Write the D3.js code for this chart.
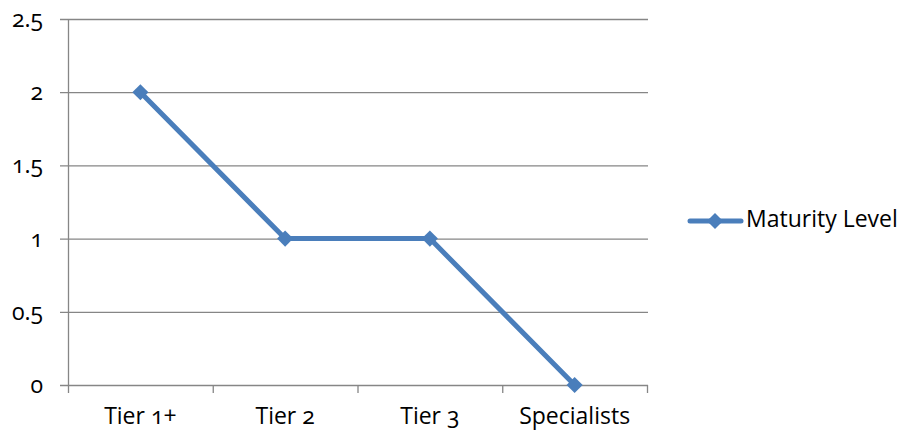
<!DOCTYPE html>
<html>
<head>
<meta charset="utf-8">
<script src="https://cdn.jsdelivr.net/npm/d3@7"></script>
<style>
body { margin: 0; background: #fff; }
svg text { font-family: "Open Sans", sans-serif; font-size: 23px; fill: #000; font-feature-settings: "onum"; }
</style>
</head>
<body>
<svg width="907" height="432"></svg>
<script>
const categories = ['Tier 1+', 'Tier 2', 'Tier 3', 'Specialists'];
const maturity = [2, 1, 1, 0];
const yTicks = [0, 0.5, 1, 1.5, 2, 2.5];
const seriesName = 'Maturity Level';

const svg = d3.select('svg');
const plotLeft = 68, plotRight = 647, plotTop = 19, plotBottom = 385;
const blue = '#4a7ebb';

const x = d3.scaleBand().domain(categories).range([plotLeft, plotRight]);
const y = d3.scaleLinear().domain([0, 2.5]).range([plotBottom, plotTop]);

// gridlines
svg.append('g')
	.selectAll('line')
	.data(yTicks)
	.enter()
	.append('line')
	.attr('x1', plotLeft - 8)
	.attr('x2', plotRight + 1)
	.attr('y1', d => y(d) + 0.5)
	.attr('y2', d => y(d) + 0.5)
	.attr('stroke', '#868686')
	.attr('stroke-width', 1.3);

// y axis
svg.append('line')
	.attr('x1', plotLeft + 0.5).attr('x2', plotLeft + 0.5)
	.attr('y1', plotTop).attr('y2', plotBottom + 8)
	.attr('stroke', '#868686').attr('stroke-width', 1.3);

svg.append('g')
	.selectAll('text')
	.data(yTicks)
	.enter()
	.append('text')
	.attr('x', 43)
	.attr('y', d => y(d))
	.attr('dy', '0.35em')
	.attr('text-anchor', 'end')
	.text(d => d);

// x axis ticks at band edges
const edges = categories.map(c => x(c)).concat([plotRight]);
svg.append('g')
	.selectAll('line')
	.data(edges.slice(1))
	.enter()
	.append('line')
	.attr('x1', d => d + 0.5).attr('x2', d => d + 0.5)
	.attr('y1', plotBottom).attr('y2', plotBottom + 8)
	.attr('stroke', '#868686').attr('stroke-width', 1.3);

svg.append('g')
	.selectAll('text')
	.data(categories)
	.enter()
	.append('text')
	.attr('x', d => x(d) + x.bandwidth() / 2)
	.attr('y', 424)
	.attr('text-anchor', 'middle')
	.text(d => d);

// series
const pts = categories.map((c, i) => [x(c) + x.bandwidth() / 2, y(maturity[i])]);
svg.append('path')
	.attr('d', d3.line()(pts))
	.attr('fill', 'none')
	.attr('stroke', blue)
	.attr('stroke-width', 5)
	.attr('stroke-linejoin', 'round');

const diamond = d3.symbol().type(d3.symbolSquare).size(130);
svg.append('g')
	.selectAll('path')
	.data(pts)
	.enter()
	.append('path')
	.attr('transform', d => `translate(${d[0]},${d[1]}) rotate(45)`)
	.attr('d', diamond)
	.attr('fill', blue);

// legend
const ly = 221;
svg.append('line')
	.attr('x1', 690).attr('x2', 741)
	.attr('y1', ly).attr('y2', ly)
	.attr('stroke', blue).attr('stroke-width', 5)
	.attr('stroke-linecap', 'round');
svg.append('path')
	.attr('transform', `translate(715,${ly}) rotate(45)`)
	.attr('d', diamond)
	.attr('fill', blue);
svg.append('text')
	.attr('x', 746)
	.attr('y', ly - 2)
	.attr('dy', '0.35em')
	.text(seriesName);
</script>
</body>
</html>
